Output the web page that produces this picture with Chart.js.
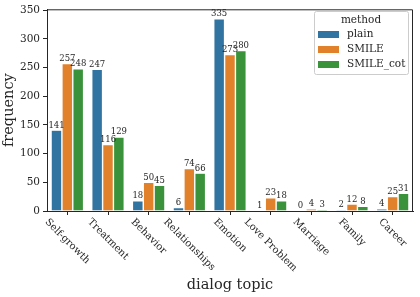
<!DOCTYPE html>
<html>
<head>
<meta charset="utf-8">
<script src="https://cdn.jsdelivr.net/npm/chart.js@4.4.0/dist/chart.umd.min.js"></script>
<style>
  body { margin: 0; background: #fff; }
</style>
</head>
<body>
<canvas id="topicChart" width="420" height="297"></canvas>
<script>
const categories = ['Self-growth', 'Treatment', 'Behavior', 'Relationships', 'Emotion', 'Love Problem', 'Marriage', 'Family', 'Career'];
const methods = ['plain', 'SMILE', 'SMILE_cot'];
const plainValues = [141, 247, 18, 6, 335, 1, 0, 2, 4];
const smileValues = [257, 116, 50, 74, 273, 23, 4, 12, 25];
const smileCotValues = [248, 129, 45, 66, 280, 18, 3, 8, 31];
const yTicks = [0, 50, 100, 150, 200, 250, 300, 350];

const colors = ['#3274a1', '#e1812c', '#3a923a'];
const textColor = '#262626';
const serif = '"DejaVu Serif", serif';

// spines, bar labels, rotated x labels, x title and legend
const extras = {
    id: 'extras',
    afterDraw(chart) {
        const ctx = chart.ctx;
        const area = chart.chartArea;
        const xScale = chart.scales.x;
        ctx.save();

        ctx.strokeStyle = textColor;
        ctx.lineWidth = 1;
        ctx.beginPath();
        ctx.moveTo(area.left, area.top + 0.5);
        ctx.lineTo(area.right - 0.5, area.top + 0.5);
        ctx.lineTo(area.right - 0.5, area.bottom);
        ctx.stroke();

        ctx.fillStyle = textColor;
        ctx.font = '8.5px ' + serif;
        ctx.textAlign = 'center';
        ctx.textBaseline = 'bottom';
        chart.data.datasets.forEach((ds, d) => {
            chart.getDatasetMeta(d).data.forEach((bar, i) => {
                ctx.fillText(String(ds.data[i]), bar.x, bar.y - 0.5);
            });
        });

        ctx.font = '10px ' + serif;
        ctx.textBaseline = 'middle';
        categories.forEach((label, i) => {
            const x = xScale.getPixelForValue(i);
            const w = ctx.measureText(label).width;
            const d = (w + 10) * Math.SQRT1_2;
            ctx.save();
            ctx.translate(x, area.bottom + 6 + d / 2);
            ctx.rotate(Math.PI / 4);
            ctx.fillText(label, 0, 0);
            ctx.restore();
        });

        ctx.font = '14.5px ' + serif;
        ctx.fillText('dialog topic', (area.left + area.right) / 2, 285);

        // legend
        ctx.fillStyle = 'rgba(255,255,255,0.85)';
        ctx.strokeStyle = '#cccccc';
        ctx.beginPath();
        ctx.roundRect(314.5, 11.5, 94, 63, 2);
        ctx.fill();
        ctx.stroke();
        ctx.fillStyle = textColor;
        ctx.font = '10.5px ' + serif;
        ctx.fillText('method', 361, 20);
        ctx.textAlign = 'left';
        methods.forEach((m, i) => {
            const y = 34.5 + i * 15;
            ctx.fillStyle = colors[i];
            ctx.fillRect(318, y - 3.5, 21, 7);
            ctx.fillStyle = textColor;
            ctx.fillText(m, 347, y);
        });
        ctx.restore();
    }
};

const seriesValues = [plainValues, smileValues, smileCotValues];

new Chart(document.getElementById('topicChart').getContext('2d'), {
    type: 'bar',
    data: {
        labels: categories,
        datasets: methods.map((m, i) => ({
            label: m,
            data: seriesValues[i],
            backgroundColor: colors[i],
            borderColor: '#ffffff',
            borderWidth: 0.7,
            categoryPercentage: 0.8,
            barPercentage: 1.0
        }))
    },
    options: {
        responsive: false,
        animation: false,
        layout: { padding: { top: 6, right: 7, left: 0, bottom: 0 } },
        plugins: {
            legend: { display: false },
            tooltip: { enabled: false }
        },
        scales: {
            x: {
                grid: {
                    display: true,
                    offset: false,
                    drawOnChartArea: false,
                    drawTicks: true,
                    tickLength: 4,
                    color: textColor
                },
                border: { color: textColor, width: 1 },
                ticks: { display: false },
                afterFit(scale) { scale.height = 86; }
            },
            y: {
                min: 0,
                max: 351.75,
                afterBuildTicks(scale) {
                    scale.ticks = yTicks.map(v => ({ value: v }));
                },
                grid: {
                    drawOnChartArea: false,
                    drawTicks: true,
                    tickLength: 4,
                    color: textColor
                },
                border: { color: textColor, width: 1 },
                ticks: {
                    color: textColor,
                    padding: 3,
                    font: { family: serif, size: 10.5 }
                },
                title: {
                    display: true,
                    text: 'frequency',
                    color: textColor,
                    padding: { top: 1, bottom: 0 },
                    font: { family: serif, size: 14.5 }
                },
                afterFit(scale) { scale.width = 47; }
            }
        }
    },
    plugins: [extras]
});
</script>
</body>
</html>
